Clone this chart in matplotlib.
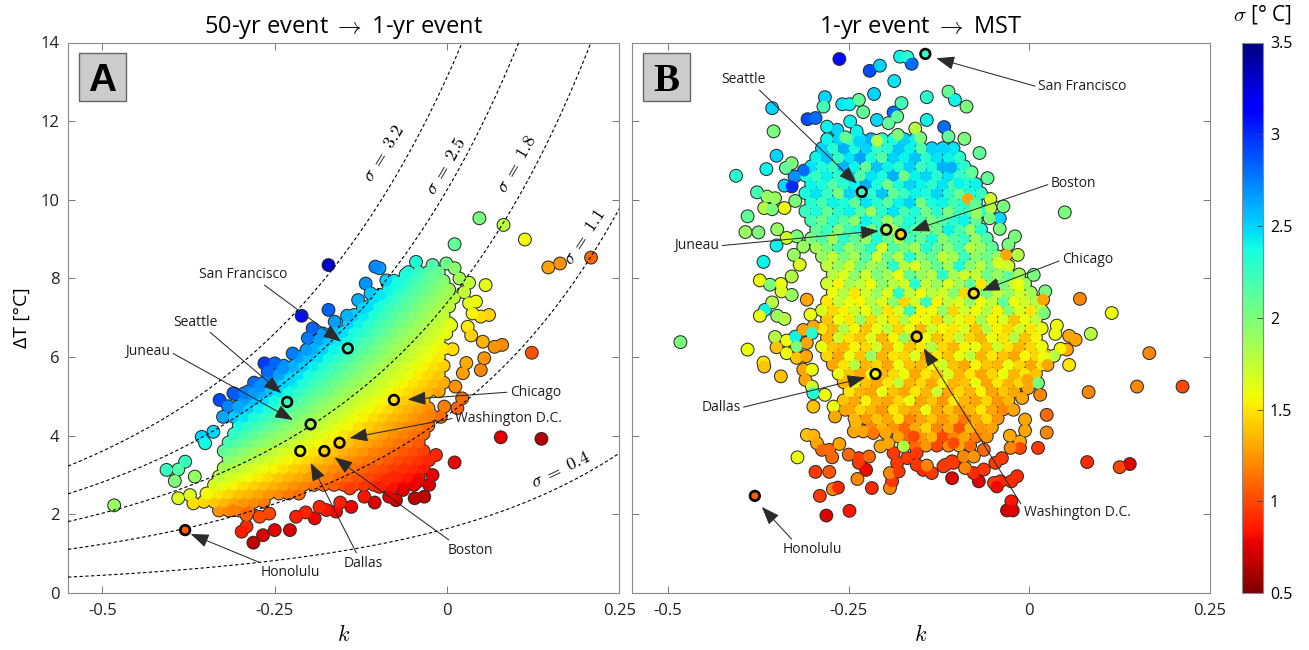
import numpy as np
import matplotlib
matplotlib.use("Agg")
import matplotlib.pyplot as plt
from matplotlib.colors import Normalize
from matplotlib.cm import ScalarMappable
from matplotlib.patches import Rectangle

plt.rcParams['font.family'] = ['Open Sans', 'DejaVu Sans']
plt.rcParams['mathtext.fontset'] = 'cm'

# ---------------------------------------------------------------- data
# iso-sigma curves of panel A:  dT = sigma * f(k)
curve_sigmas = [0.4, 1.1, 1.8, 2.5, 3.2]
curve_b = 0.87
curve_d = 4.1
curve_label_k = [0.165, 0.1995, 0.101, -0.002, -0.091]
curve_label_dT = [3.13, 9.06, 10.92, 10.87, 11.19]

city_names = ['San Francisco', 'Seattle', 'Juneau', 'Chicago', 'Washington D.C.', 'Dallas', 'Boston', 'Honolulu']
city_k = [-0.144, -0.232, -0.198, -0.077, -0.156, -0.213, -0.178, -0.380]
city_dT_A = [6.22, 4.86, 4.29, 4.91, 3.82, 3.61, 3.61, 1.60]
city_dT_B = [13.71, 10.20, 9.24, 7.62, 6.52, 5.57, 9.12, 2.47]

labA_k = [-0.296, -0.3645, -0.434, 0.128, 0.089, -0.121, 0.0345, -0.227]
labA_dT = [8.09, 6.89, 6.13, 5.11, 4.45, 0.76, 1.09, 0.51]
tipA_k = [-0.1535, -0.2403, -0.2235, -0.057, -0.1415, -0.198, -0.1632, -0.372]
tipA_dT = [6.39, 5.08, 4.40, 4.92, 3.94, 3.31, 3.45, 1.50]
relA = [(0.7, 0.0), (0.75, 0.0), (1.0, 0.5), (0.0, 0.5), (0.0, 0.5), (0.35, 1.0), (0.1, 1.0), (0.1, 1.0)]

labB_k = [0.0729, -0.396, -0.460, 0.0803, 0.0661, -0.4266, 0.0609, -0.3009]
labB_dT = [12.87, 13.05, 8.83, 8.47, 2.04, 4.71, 10.41, 1.11]
tipB_k = [-0.1288, -0.2389, -0.2087, -0.0656, -0.1464, -0.2271, -0.1631, -0.3703]
tipB_dT = [13.60, 10.41, 9.21, 7.69, 6.22, 5.48, 9.21, 2.19]
relB = [(0.0, 0.5), (0.8, 0.0), (1.0, 0.5), (0.0, 0.5), (0.0, 0.8), (1.0, 0.5), (0.0, 0.5), (0.2, 1.0)]

# panel A: dense core of stations, read row by row
A_rows_dT = [2.10, 2.32, 2.53, 2.75, 2.96, 3.18, 3.40, 3.61, 3.83, 4.05, 4.26, 4.48, 4.70, 4.91,
             5.13, 5.35, 5.56, 5.78, 6.00, 6.21, 6.43, 6.64, 6.86, 7.07, 7.29, 7.51, 7.72, 7.94, 8.16]
A_rows_k = [
    [-.331, -.317, -.302, -.288],
    [-.353, -.338, -.324, -.309, -.295, -.280, -.266],
    [-.346, -.331, -.317, -.302, -.288, -.273, -.259, -.244, -.230, -.215],
    [-.338, -.324, -.309, -.295, -.280, -.266, -.251, -.237, -.222, -.208, -.193, -.179, -.164, -.150, -.135, -.121, -.106, -.092, -.077, -.063, -.048],
    [-.331, -.317, -.302, -.288, -.273, -.259, -.244, -.230, -.215, -.201, -.186, -.172, -.157, -.143, -.128, -.114, -.099, -.085, -.070, -.056, -.041],
    [-.324, -.309, -.295, -.280, -.266, -.251, -.237, -.222, -.208, -.193, -.179, -.164, -.150, -.135, -.121, -.106, -.092, -.077, -.063, -.048, -.034],
    [-.317, -.302, -.288, -.273, -.259, -.244, -.230, -.215, -.201, -.186, -.172, -.157, -.143, -.128, -.114, -.099, -.085, -.070, -.056, -.041, -.027],
    [-.324, -.309, -.295, -.280, -.266, -.251, -.237, -.222, -.208, -.193, -.179, -.164, -.150, -.135, -.121, -.106, -.092, -.077, -.063, -.048, -.034],
    [-.317, -.302, -.288, -.273, -.259, -.244, -.230, -.215, -.201, -.186, -.172, -.157, -.143, -.128, -.114, -.099, -.085, -.070, -.056, -.041],
    [-.309, -.295, -.280, -.266, -.251, -.237, -.222, -.208, -.193, -.179, -.164, -.150, -.135, -.121, -.106, -.092, -.077, -.063, -.048, -.034],
    [-.302, -.288, -.273, -.259, -.244, -.230, -.215, -.201, -.186, -.172, -.157, -.143, -.128, -.114, -.099, -.085, -.070, -.056, -.041, -.027],
    [-.309, -.295, -.280, -.266, -.251, -.237, -.222, -.208, -.193, -.179, -.164, -.150, -.135, -.121, -.106, -.092, -.077, -.063, -.048, -.034],
    [-.302, -.288, -.273, -.259, -.244, -.230, -.215, -.201, -.186, -.172, -.157, -.143, -.128, -.114, -.099, -.085, -.070, -.056, -.041, -.027],
    [-.295, -.280, -.266, -.251, -.237, -.222, -.208, -.193, -.179, -.164, -.150, -.135, -.121, -.106, -.092, -.077, -.063, -.048, -.034],
    [-.288, -.273, -.259, -.244, -.230, -.215, -.201, -.186, -.172, -.157, -.143, -.128, -.114, -.099, -.085, -.070, -.056, -.041, -.027, -.012],
    [-.280, -.266, -.251, -.237, -.222, -.208, -.193, -.179, -.164, -.150, -.135, -.121, -.106, -.092, -.077, -.063, -.048, -.034, -.019, -.005],
    [-.259, -.244, -.230, -.215, -.201, -.186, -.172, -.157, -.143, -.128, -.114, -.099, -.085, -.070, -.056, -.041, -.027, -.012],
    [-.237, -.222, -.208, -.193, -.179, -.164, -.150, -.135, -.121, -.106, -.092, -.077, -.063, -.048, -.034, -.019, -.005],
    [-.215, -.201, -.186, -.172, -.157, -.143, -.128, -.114, -.099, -.085, -.070, -.056, -.041, -.027, -.012],
    [-.193, -.179, -.164, -.150, -.135, -.121, -.106, -.092, -.077, -.063, -.048, -.034, -.019, -.005],
    [-.186, -.172, -.157, -.143, -.128, -.114, -.099, -.085, -.070, -.056, -.041, -.027, -.012],
    [-.164, -.150, -.135, -.121, -.106, -.092, -.077, -.063, -.048, -.034, -.019, -.005],
    [-.143, -.128, -.114, -.099, -.085, -.070, -.056, -.041, -.027, -.012, .003],
    [-.135, -.121, -.106, -.092, -.077, -.063, -.048, -.034, -.019, -.005],
    [-.114, -.099, -.085, -.070, -.056, -.041, -.027, -.012, .003],
    [-.106, -.092, -.077, -.063, -.048, -.034, -.019, -.005, .010],
    [-.085, -.070, -.056, -.041, -.027, -.012, .003],
    [-.077, -.063, -.048, -.034, -.019, -.005],
    [-.056, -.041, -.027, -.012],
]
# panel A: scattered stations around the core
A_out_k = [-.483, -.407, -.390, -.395, -.390, -.373, -.368, -.380, -.356, -.351,
           -.339, -.325, -.330, -.308, -.289, -.272, -.366, -.349, -.310, -.291,
           -.298, -.281, -.267, -.250, -.228, -.272, -.219, -.192, -.175, -.185,
           -.161, -.139, -.291, -.141, -.258, -.205, -.155, -.120, -.105,
           .123, .080, .069, .052, .054, .049, .023, .022, .015, -.004,
           -.023, -.009, .078, .137, .011, -.016, -.026, -.021, -.026, -.043,
           -.033, -.047, -.064, -.076, -.081, -.074, .032, .061, .049, .030,
           .006, -.001, -.089, -.098, -.084, .012, .028, .008, .035,
           .047, .082, .113, .147, .164, .209, .011, -.045, -.021, -.001,
           .011, -.072, -.067, -.043, .018, .032, .056, -.098, .042, .037,
           .025, -.020,
           -.172, -.104, -.211, -.172, -.118, -.111, -.098, -.074, -.129, -.122,
           -.163, -.195, -.180, -.202, -.224, -.204, -.265, -.250, -.260, -.238,
           -.228, -.310, -.294, -.318, -.303, -.281, -.272, -.145, -.088, -.060]
A_out_dT = [2.23, 3.13, 3.14, 2.85, 2.41, 2.49, 2.28, 3.34, 3.97, 3.81,
            4.10, 4.48, 4.91, 5.06, 5.03, 5.08, 2.96, 2.53, 2.11, 1.69,
            1.56, 1.28, 1.47, 1.60, 1.60, 1.94, 1.94, 1.90, 2.11, 2.19,
            2.07, 2.19, 1.98, 2.66, 2.02, 2.05, 2.30, 2.45, 2.30,
            6.11, 6.31, 6.26, 6.39, 5.97, 5.67, 5.59, 4.95, 4.70, 4.74,
            4.53, 4.48, 3.96, 3.92, 3.32, 3.51, 3.38, 3.00, 2.75, 2.83,
            2.45, 2.41, 2.62, 2.96, 2.66, 2.36, 7.37, 7.07, 7.03, 6.77,
            6.81, 6.60, 2.87, 2.70, 2.45, 5.25, 5.85, 6.20, 6.55,
            9.53, 9.36, 8.99, 8.28, 8.38, 8.53, 8.87, 8.42, 8.34, 8.38,
            8.26, 7.83, 7.75, 7.70, 8.00, 7.89, 7.83, 8.26, 7.41, 7.11,
            7.65, 8.05,
            8.34, 8.30, 7.05, 7.20, 7.87, 7.62, 7.58, 7.87, 7.45, 7.24,
            6.90, 6.73, 6.60, 6.48, 6.09, 6.18, 5.84, 5.84, 5.63, 5.71,
            5.43, 5.08, 5.08, 4.75, 4.74, 5.08, 5.25, 7.05, 7.95, 8.10]

# panel B: dense core, row by row, with the sigma (colour) of each station
B_rows_dT = [3.75, 3.98, 4.21, 4.44, 4.67, 4.90, 5.13, 5.36, 5.58, 5.81, 6.04, 6.27, 6.50, 6.73,
             6.96, 7.19, 7.42, 7.64, 7.87, 8.10, 8.33, 8.56, 8.79, 9.02, 9.25, 9.48, 9.71, 9.94,
             10.17, 10.40, 10.62, 10.85, 11.08, 11.31, 11.54]
B_rows_k = [
    [-.158, -.143, -.128, -.112, -.097, -.082],
    [-.181, -.166, -.150, -.135, -.120, -.105, -.090, -.074, -.059],
    [-.219, -.204, -.188, -.173, -.158, -.143, -.128, -.112, -.097, -.082, -.067, -.052],
    [-.242, -.226, -.211, -.196, -.181, -.166, -.150, -.135, -.120, -.105, -.090, -.074, -.059, -.044],
    [-.249, -.234, -.219, -.204, -.188, -.173, -.158, -.143, -.128, -.112, -.097, -.082, -.067, -.052, -.036],
    [-.257, -.242, -.226, -.211, -.196, -.181, -.166, -.150, -.135, -.120, -.105, -.090, -.074, -.059, -.044, -.029],
    [-.249, -.234, -.219, -.204, -.188, -.173, -.158, -.143, -.128, -.112, -.097, -.082, -.067, -.052, -.036, -.021],
    [-.257, -.242, -.226, -.211, -.196, -.181, -.166, -.150, -.135, -.120, -.105, -.090, -.074, -.059, -.044, -.029, -.014, .002],
    [-.264, -.249, -.234, -.219, -.204, -.188, -.173, -.158, -.143, -.128, -.112, -.097, -.082, -.067, -.052, -.036, -.021, -.006, .009],
    [-.272, -.257, -.242, -.226, -.211, -.196, -.181, -.166, -.150, -.135, -.120, -.105, -.090, -.074, -.059, -.044, -.029, -.014, .002, .017],
    [-.280, -.264, -.249, -.234, -.219, -.204, -.188, -.173, -.158, -.143, -.128, -.112, -.097, -.082, -.067, -.052, -.036, -.021, -.006, .009, .024],
    [-.287, -.272, -.257, -.242, -.226, -.211, -.196, -.181, -.166, -.150, -.135, -.120, -.105, -.090, -.074, -.059, -.044, -.029, -.014, .002, .017],
    [-.280, -.264, -.249, -.234, -.219, -.204, -.188, -.173, -.158, -.143, -.128, -.112, -.097, -.082, -.067, -.052, -.036, -.021, -.006, .009],
    [-.287, -.272, -.257, -.242, -.226, -.211, -.196, -.181, -.166, -.150, -.135, -.120, -.105, -.090, -.074, -.059, -.044, -.029, -.014, .002, .017],
    [-.280, -.264, -.249, -.234, -.219, -.204, -.188, -.173, -.158, -.143, -.128, -.112, -.097, -.082, -.067, -.052, -.036, -.021, -.006, .009],
    [-.287, -.272, -.257, -.242, -.226, -.211, -.196, -.181, -.166, -.150, -.135, -.120, -.105, -.090, -.074, -.059, -.044, -.029, -.014, .002, .017],
    [-.280, -.264, -.249, -.234, -.219, -.204, -.188, -.173, -.158, -.143, -.128, -.112, -.097, -.082, -.067, -.052, -.036, -.021, -.006, .009],
    [-.272, -.257, -.242, -.226, -.211, -.196, -.181, -.166, -.150, -.135, -.120, -.105, -.090, -.074, -.059, -.044, -.029, -.014, .002],
    [-.280, -.264, -.249, -.234, -.219, -.204, -.188, -.173, -.158, -.143, -.128, -.112, -.097, -.082, -.067, -.052, -.036, -.021, -.006],
    [-.272, -.257, -.242, -.226, -.211, -.196, -.181, -.166, -.150, -.135, -.120, -.105, -.090, -.074, -.059, -.044, -.029, -.014],
    [-.280, -.264, -.249, -.234, -.219, -.204, -.188, -.173, -.158, -.143, -.128, -.112, -.097, -.082, -.067, -.052, -.036],
    [-.287, -.272, -.257, -.242, -.226, -.211, -.196, -.181, -.166, -.150, -.135, -.120, -.105, -.090, -.074, -.059, -.044],
    [-.295, -.280, -.264, -.249, -.234, -.219, -.204, -.188, -.173, -.158, -.143, -.128, -.112, -.097, -.082, -.067, -.052],
    [-.302, -.287, -.272, -.257, -.242, -.226, -.211, -.196, -.181, -.166, -.150, -.135, -.120, -.105, -.090, -.074, -.059],
    [-.295, -.280, -.264, -.249, -.234, -.219, -.204, -.188, -.173, -.158, -.143, -.128, -.112, -.097, -.082, -.067],
    [-.302, -.287, -.272, -.257, -.242, -.226, -.211, -.196, -.181, -.166, -.150, -.135, -.120, -.105, -.090, -.074],
    [-.310, -.295, -.280, -.264, -.249, -.234, -.219, -.204, -.188, -.173, -.158, -.143, -.128, -.112, -.097, -.082, -.067],
    [-.302, -.287, -.272, -.257, -.242, -.226, -.211, -.196, -.181, -.166, -.150, -.135, -.120, -.105, -.090, -.074],
    [-.310, -.295, -.280, -.264, -.249, -.234, -.219, -.204, -.188, -.173, -.158, -.143, -.128, -.112, -.097, -.082, -.067],
    [-.302, -.287, -.272, -.257, -.242, -.226, -.211, -.196, -.181, -.166, -.150, -.135, -.120, -.105, -.090, -.074],
    [-.310, -.295, -.280, -.264, -.249, -.234, -.219, -.204, -.188, -.173, -.158, -.143, -.128, -.112, -.097, -.082],
    [-.302, -.287, -.272, -.257, -.242, -.226, -.211, -.196, -.181, -.166, -.150, -.135, -.120, -.105, -.090],
    [-.295, -.280, -.264, -.249, -.234, -.219, -.204, -.188, -.173, -.158, -.143, -.128, -.112, -.097],
    [-.287, -.272, -.257, -.242, -.226, -.211, -.196, -.181, -.166, -.150, -.135, -.120, -.105],
    [-.280, -.264, -.249, -.234, -.219, -.204, -.188, -.173, -.158],
]
B_rows_sig = [
    [1.1, 1.25, 1.0, 1.2, 1.3, 1.1],
    [1.3, 1.1, 1.25, 1.35, 1.0, 1.2, 1.3, 1.15, 1.25],
    [1.2, 1.35, 1.25, 1.1, 1.3, 1.45, 1.2, 1.3, 1.05, 1.35, 1.25, 1.3],
    [1.35, 1.25, 1.4, 1.3, 1.5, 1.2, 1.3, 1.4, 1.25, 1.35, 1.15, 1.3, 1.45, 1.25],
    [1.3, 1.45, 1.35, 1.25, 1.5, 1.35, 1.3, 1.6, 1.3, 1.4, 1.25, 1.35, 1.5, 1.3, 1.2],
    [1.4, 1.3, 1.55, 1.35, 1.3, 1.45, 1.6, 1.3, 1.4, 1.25, 1.5, 1.35, 1.3, 1.45, 1.25, 1.35],
    [1.5, 1.35, 1.3, 1.6, 1.4, 1.3, 1.5, 1.35, 1.7, 1.3, 1.45, 1.35, 1.55, 1.3, 1.4, 1.3],
    [1.35, 1.6, 1.4, 1.3, 1.5, 1.75, 1.35, 1.45, 1.3, 1.55, 1.35, 1.4, 1.6, 1.3, 1.5, 1.35, 1.45, 1.3],
    [1.6, 1.4, 1.3, 1.55, 1.35, 1.45, 1.6, 1.3, 1.5, 1.4, 1.65, 1.35, 1.5, 1.3, 1.45, 1.6, 1.35, 1.5, 1.4],
    [1.3, 1.5, 1.8, 1.35, 1.45, 1.3, 1.6, 1.4, 1.35, 1.55, 1.7, 1.4, 1.3, 1.55, 1.4, 1.35, 1.6, 1.45, 1.3, 1.5],
    [1.45, 1.3, 1.6, 1.4, 1.9, 1.35, 1.5, 1.45, 1.65, 1.3, 1.5, 1.4, 1.6, 1.75, 1.35, 1.5, 1.4, 1.3, 1.55, 1.45, 1.3],
    [1.6, 1.4, 1.35, 1.55, 1.45, 1.7, 1.35, 1.6, 1.4, 1.5, 1.8, 1.45, 1.35, 1.55, 1.6, 1.4, 1.7, 1.5, 1.35, 1.45, 1.6],
    [1.35, 1.7, 1.5, 1.4, 1.65, 1.35, 1.55, 1.9, 1.45, 1.6, 1.4, 1.5, 1.75, 1.45, 1.35, 1.6, 1.5, 1.8, 1.4, 1.55],
    [1.5, 1.35, 1.8, 1.55, 1.4, 1.6, 1.75, 1.45, 1.6, 1.35, 1.7, 1.55, 1.5, 1.65, 1.4, 1.8, 1.55, 1.45, 1.7, 1.5, 1.6],
    [1.4, 1.6, 1.5, 1.9, 1.45, 1.65, 1.5, 1.8, 1.55, 1.6, 1.45, 1.75, 1.6, 1.5, 1.85, 1.55, 1.65, 1.4, 1.6, 1.75],
    [1.65, 1.45, 1.55, 1.7, 1.6, 1.85, 1.5, 1.65, 2.2, 1.55, 1.6, 1.9, 1.45, 1.7, 1.6, 1.8, 1.55, 1.95, 1.65, 1.5, 1.7],
    [1.5, 1.75, 1.6, 1.55, 1.8, 1.65, 1.95, 1.45, 1.7, 2.25, 1.55, 1.75, 1.65, 1.9, 1.6, 1.75, 2.1, 1.6, 1.7, 1.8],
    [1.6, 1.8, 1.5, 1.7, 1.9, 1.65, 2.3, 1.75, 1.6, 1.8, 1.7, 1.95, 1.45, 1.85, 2.0, 1.75, 1.9, 1.7, 1.85],
    [1.7, 1.55, 1.85, 1.75, 1.6, 1.95, 1.8, 1.7, 2.3, 1.75, 1.9, 1.65, 1.85, 2.1, 1.5, 1.95, 2.0, 1.75, 1.9],
    [1.8, 1.65, 1.95, 1.7, 2.0, 1.85, 1.6, 2.1, 1.9, 1.8, 2.3, 1.85, 1.7, 1.75, 2.05, 1.9, 2.1, 1.85],
    [1.75, 1.9, 1.7, 2.05, 1.85, 1.95, 2.3, 1.8, 1.65, 1.9, 2.1, 1.85, 2.35, 1.95, 1.8, 2.05, 1.9],
    [1.9, 1.75, 2.0, 1.85, 2.15, 1.7, 2.05, 1.8, 2.3, 1.95, 2.1, 1.75, 1.85, 2.25, 1.95, 2.05, 1.9],
    [1.85, 2.0, 2.2, 1.9, 2.05, 2.3, 1.7, 2.15, 2.0, 1.85, 2.3, 2.1, 1.95, 2.2, 1.8, 1.9, 2.1],
    [2.0, 2.15, 1.85, 2.3, 2.1, 1.9, 2.35, 2.05, 1.8, 2.2, 2.1, 2.35, 1.95, 2.15, 2.25, 1.9, 2.15],
    [2.1, 2.25, 1.95, 2.2, 2.35, 2.0, 2.25, 1.85, 2.3, 2.15, 2.0, 2.05, 2.4, 2.2, 1.9, 2.3],
    [2.2, 2.05, 2.3, 2.15, 1.95, 2.4, 2.25, 1.9, 2.1, 2.35, 2.2, 2.0, 2.15, 2.3, 2.4, 2.1],
    [2.25, 2.35, 2.1, 2.3, 2.4, 2.15, 1.9, 2.3, 2.45, 2.2, 2.35, 2.05, 2.3, 2.0, 2.25, 2.2, 2.35],
    [2.3, 2.2, 2.4, 2.35, 2.1, 2.45, 2.3, 2.15, 2.4, 2.5, 2.0, 2.35, 2.4, 2.2, 2.35, 2.3],
    [2.35, 2.45, 2.25, 2.0, 2.5, 2.35, 2.3, 2.55, 2.1, 2.25, 2.4, 2.35, 2.5, 2.3, 2.05, 2.35, 2.25],
    [2.4, 2.35, 2.15, 2.3, 2.4, 2.6, 2.35, 2.05, 2.35, 2.5, 2.4, 2.3, 2.45, 2.15, 2.35, 2.4],
    [2.35, 2.25, 2.4, 2.3, 2.55, 2.15, 2.45, 2.35, 2.6, 2.05, 2.4, 2.5, 2.3, 2.45, 2.25, 2.3],
    [2.45, 2.35, 2.25, 2.6, 2.4, 2.1, 2.55, 2.4, 2.3, 2.5, 2.25, 2.35, 2.6, 2.4, 2.3],
    [2.4, 2.55, 2.25, 2.45, 2.65, 2.35, 2.15, 2.5, 2.4, 2.55, 2.3, 2.45, 2.4, 2.3],
    [2.5, 2.3, 2.6, 2.35, 2.5, 2.25, 2.3, 2.55, 2.4, 2.15, 2.5, 2.4, 2.45],
    [2.4, 2.5, 2.25, 2.45, 2.6, 2.3, 2.35, 2.5, 2.4],
]
# panel B: scattered stations around the core
B_out_k = [-.263, -.179, -.169, -.163, -.207, -.221, -.187, -.215, -.142, -.112,
           -.103, -.283, -.285, -.259, -.249, -.236, -.177, -.230, -.188, -.183,
           -.356, -.307, -.296, -.248, -.211, -.195, -.142, -.118, -.158, -.280,
           -.266, -.239, -.255, -.354, -.236, -.211, -.182, -.151, -.112, -.350,
           -.364, -.329, -.337, -.312, -.325, -.339, -.329, -.406, -.377, -.363,
           -.352, -.367, -.356, -.339, -.324, -.390, -.393, -.375, -.349,
           -.087, -.090, -.069, -.119, -.080, -.058, -.108, -.098, -.085, -.054,
           -.054, -.036, -.075, -.041, -.055, -.041, -.020, .049, -.073,
           -.029, -.016, -.032, -.029, -.043, .006, .022, -.015, .070, .114,
           .019, .020, .085, .038, .036, .055, .064, .052, .043, .034,
           .020, .025, .055, .166, .012, -.003, .015, -.002, .082, .149,
           .212, -.010, -.022, -.006, .024,
           .024, .012, -.006, -.013, -.013, -.027, -.026, .080, .125, .139,
           -.017, -.025, -.025, -.031, -.023, -.040, -.049, -.045, -.063, -.070,
           -.077, -.107, -.107, -.119, -.089, -.091, -.077, -.038, -.047, -.063,
           -.105,
           -.321, -.308, -.299, -.294, -.287, -.277, -.273, -.263, -.296, -.277,
           -.290, -.272, -.265, -.281, -.249, -.250, -.236, -.222, -.236, -.226,
           -.238, -.218, -.193, -.190, -.193, -.181, -.183, -.169, -.174, -.195,
           -.206, -.243, -.240, -.230, -.216, -.199, -.156, -.156, -.147, -.135,
           -.142, -.105, -.116, -.160, -.188,
           -.483, -.390, -.368, -.350, -.373, -.359, -.344, -.343, -.356, -.366,
           -.373, -.349, -.339, -.352, -.336, -.324, -.322, -.350, -.336, -.322,
           -.368, -.367, -.344, -.329, -.329, -.318, -.326, -.313, -.322, -.336,
           -.308, -.303, -.299, -.313, -.301, -.308, -.309, -.313, -.301, -.310,
           -.301, -.299, -.283, -.299, -.271, -.269, -.255]
B_out_dT = [13.58, 13.64, 13.63, 13.46, 13.41, 13.28, 13.02, 12.69, 12.61, 12.75,
            12.54, 12.61, 12.37, 12.43, 12.43, 12.54, 12.46, 12.23, 12.22, 12.12,
            12.33, 12.05, 12.08, 11.99, 12.03, 11.95, 12.03, 11.85, 11.81, 11.86,
            11.78, 11.74, 11.59, 11.74, 11.48, 11.50, 11.65, 11.57, 11.61, 11.12,
            10.78, 10.93, 10.81, 10.74, 10.59, 10.36, 10.34, 10.61, 10.19, 10.08,
            10.04, 9.79, 9.76, 9.79, 9.97, 9.58, 9.18, 9.17, 9.25,
            12.37, 11.55, 11.19, 11.31, 10.70, 10.55, 10.82, 10.42, 10.02, 10.02,
            9.79, 9.83, 9.87, 9.53, 9.53, 9.26, 9.07, 9.68, 9.66,
            8.86, 8.60, 8.60, 8.32, 8.39, 8.09, 7.67, 7.84, 7.48, 7.12,
            7.46, 7.12, 6.59, 6.80, 6.59, 6.54, 6.44, 6.19, 6.21, 6.03,
            6.00, 5.80, 5.80, 6.10, 5.34, 5.42, 5.04, 5.21, 5.11, 5.25,
            5.25, 4.96, 4.66, 4.41, 4.53,
            4.08, 3.69, 4.13, 3.85, 3.69, 4.00, 3.69, 3.33, 3.20, 3.28,
            2.97, 2.84, 2.33, 2.10, 2.10, 2.84, 2.80, 2.71, 3.14, 2.84,
            3.05, 2.92, 3.35, 3.22, 3.18, 3.47, 3.47, 3.43, 3.31, 3.64,
            3.81,
            3.45, 4.02, 4.00, 3.81, 3.64, 3.64, 3.45, 3.79, 3.08, 3.08,
            2.47, 2.64, 2.68, 1.97, 2.09, 3.52, 3.43, 3.47, 3.31, 3.13,
            2.90, 2.67, 2.67, 2.84, 3.05, 3.09, 3.31, 3.43, 3.73, 3.81,
            3.73, 4.11, 4.32, 4.11, 4.07, 4.07, 3.56, 3.26, 3.13, 3.05,
            3.24, 3.31, 3.26, 3.98, 3.56,
            6.38, 6.19, 8.42, 8.84, 7.95, 7.84, 7.86, 7.67, 7.39, 7.20,
            7.05, 7.05, 6.97, 6.51, 6.42, 6.52, 6.27, 6.25, 6.10, 5.98,
            5.86, 5.76, 5.51, 7.58, 8.05, 8.35, 8.60, 8.81, 9.07, 9.03,
            7.46, 7.08, 6.78, 6.69, 6.61, 6.36, 6.02, 5.68, 5.68, 5.42,
            5.25, 5.08, 5.04, 4.74, 4.74, 4.49, 4.66]
B_out_sig = [3.1, 2.4, 2.3, 2.8, 2.5, 2.9, 2.45, 2.5, 2.3, 2.1,
             2.4, 2.5, 2.2, 2.45, 2.4, 2.1, 2.2, 2.1, 2.8, 2.1,
             2.5, 2.9, 2.8, 2.4, 2.5, 2.1, 2.4, 2.8, 1.8, 2.4,
             2.5, 2.4, 2.1, 2.0, 2.5, 1.8, 2.0, 2.0, 2.1, 2.5,
             2.4, 2.0, 2.1, 2.8, 2.7, 2.5, 3.0, 2.3, 2.2, 1.9,
             1.9, 1.8, 2.0, 1.6, 2.0, 2.1, 1.9, 2.0, 1.9,
             2.0, 2.0, 2.1, 2.5, 2.1, 2.1, 2.6, 2.4, 1.3, 1.7,
             1.8, 2.0, 2.1, 2.5, 2.0, 2.0, 2.0, 2.0, 1.9,
             2.0, 1.8, 1.3, 1.7, 1.65, 2.0, 2.0, 1.6, 1.2, 1.6,
             1.3, 2.0, 1.8, 1.6, 1.6, 1.3, 1.3, 1.3, 1.55, 1.8,
             1.6, 1.3, 1.5, 1.2, 2.0, 1.3, 1.2, 1.3, 1.2, 1.2,
             1.0, 1.3, 1.3, 1.3, 1.1,
             1.2, 0.95, 1.3, 1.3, 1.0, 1.3, 1.2, 0.9, 1.0, 0.75,
             0.9, 0.9, 0.85, 0.7, 0.75, 0.9, 0.95, 0.8, 0.95, 0.75,
             0.9, 0.75, 0.95, 0.95, 1.2, 1.2, 1.25, 0.95, 0.95, 1.1,
             1.0,
             1.6, 1.4, 1.35, 1.3, 1.1, 1.1, 1.1, 1.3, 0.95, 1.05,
             0.95, 1.2, 0.9, 0.75, 0.85, 1.1, 0.95, 1.1, 0.95, 0.8,
             1.2, 0.9, 1.2, 0.95, 1.2, 0.95, 0.95, 0.95, 1.8, 1.3,
             1.3, 1.3, 1.35, 1.3, 1.15, 1.3, 0.95, 0.95, 0.9, 0.95,
             1.2, 0.95, 0.95, 1.0, 0.95,
             2.0, 1.6, 2.4, 2.4, 1.6, 2.0, 1.6, 1.65, 1.8, 2.4,
             1.6, 1.9, 1.8, 1.8, 1.6, 2.4, 2.0, 1.4, 1.6, 1.4,
             1.5, 1.4, 1.4, 1.9, 1.8, 1.65, 1.9, 1.9, 2.0, 1.7,
             1.3, 1.6, 1.3, 1.3, 2.3, 1.3, 1.3, 1.3, 1.6, 1.3,
             1.7, 2.3, 1.6, 1.4, 1.6, 1.3, 1.3]

xtick_vals = [-0.5, -0.25, 0, 0.25]
xtick_labels = ['-0.5', '-0.25', '0', '0.25']
cbar_ticks = [0.5, 1, 1.5, 2, 2.5, 3, 3.5]
cbar_labels = ['0.5', '1', '1.5', '2', '2.5', '3', '3.5']

# ---------------------------------------------------------------- checks
assert len(A_rows_dT) == len(A_rows_k)
assert len(B_rows_dT) == len(B_rows_k) == len(B_rows_sig)
for i, (a, b) in enumerate(zip(B_rows_k, B_rows_sig)):
    assert len(a) == len(b), ('B row', i, len(a), len(b))
assert len(A_out_k) == len(A_out_dT), (len(A_out_k), len(A_out_dT))
assert len(B_out_k) == len(B_out_dT) == len(B_out_sig), (len(B_out_k), len(B_out_dT), len(B_out_sig))


def f_curve(k):
    k = np.asarray(k, dtype=float)
    ks = np.where(np.abs(k) < 1e-9, 1e-9, k)
    return np.exp(curve_b * ks) * np.expm1(curve_d * ks) / ks


# ---------------------------------------------------------------- figure
W, H = 1309, 650
fig = plt.figure(figsize=(W / 100, H / 100), dpi=100)
bot = 1 - 593 / H
hgt = 550.5 / H
axA = fig.add_axes([68 / W, bot, 551.3 / W, hgt])
axB = fig.add_axes([632 / W, bot, 578 / W, hgt])
cax = fig.add_axes([1242 / W, bot, 21 / W, hgt])

cmap = plt.get_cmap('jet_r')
norm = Normalize(0.5, 3.5)

for ax in (axA, axB):
    ax.set_xlim(-0.55, 0.25)
    ax.set_ylim(0, 14)
    ax.set_xticks(xtick_vals)
    ax.set_xticklabels(xtick_labels)
    ax.set_yticks(range(0, 15, 2))
    ax.tick_params(direction='in', length=5, width=0.7, color='#777777', top=True, right=True,
                   labelsize=12, labelcolor='#222222')
    ax.tick_params(axis='x', pad=7)
    ax.tick_params(axis='y', pad=6)
    for sp in ax.spines.values():
        sp.set_color('#8a8a8a')
        sp.set_linewidth(0.8)
    ax.set_xlabel(r'$k$', fontsize=16)
    ax.xaxis.set_label_coords(0.5, -0.058)
axB.set_yticklabels([])
axA.set_ylabel('ΔT [°C]', fontsize=14)
axA.yaxis.set_label_coords(-0.068, 0.5)
axA.set_title(r'50-yr event $\rightarrow$ 1-yr event', fontsize=17, pad=7)
axB.set_title(r'1-yr event $\rightarrow$ MST', fontsize=17, pad=7)

S = 72


def draw_points(ax, k, dT, sig):
    cols = cmap(norm(np.asarray(sig)))
    ax.scatter(k, dT, s=S, c=cols, edgecolors='#2e2e2e', linewidths=1.5, zorder=2)
    ax.scatter(k, dT, s=S, c=cols, edgecolors='none', linewidths=0, zorder=2.5)


# panel A points (colour = sigma implied by position on the iso-sigma family)
kA, dA = [], []
for d, row in zip(A_rows_dT, A_rows_k):
    kA += list(row)
    dA += [d] * len(row)
kA += A_out_k
dA += A_out_dT
kA = np.array(kA)
dA = np.array(dA)
draw_points(axA, kA, dA, dA / f_curve(kA))

# panel B points
kB, dB, sB = [], [], []
for d, row, sg in zip(B_rows_dT, B_rows_k, B_rows_sig):
    kB += list(row)
    dB += [d] * len(row)
    sB += list(sg)
kB += B_out_k
dB += B_out_dT
sB += B_out_sig
draw_points(axB, kB, dB, sB)

# iso-sigma curves
kk = np.linspace(-0.55, 0.25, 600)
for s in curve_sigmas:
    axA.plot(kk, s * f_curve(kk), color='k', lw=0.8, ls=(0, (3, 2.2)), zorder=4)
for s, lk, ld in zip(curve_sigmas, curve_label_k, curve_label_dT):
    p1 = axA.transData.transform((lk - 0.004, s * f_curve(lk - 0.004)))
    p2 = axA.transData.transform((lk + 0.004, s * f_curve(lk + 0.004)))
    ang = np.degrees(np.arctan2(p2[1] - p1[1], p2[0] - p1[0]))
    axA.text(lk, ld, r'$\sigma\;=\;%s$' % s, rotation=ang, rotation_mode='anchor',
             ha='center', va='center', fontsize=13, zorder=5)

# cities
city_sig = np.array(city_dT_A) / f_curve(np.array(city_k))
for ax, cd in ((axA, city_dT_A), (axB, city_dT_B)):
    ax.scatter(city_k, cd, s=48, c=cmap(norm(city_sig)), edgecolors='k', linewidths=1.9, zorder=6)

arrow_style = '-|>,head_length=0.8,head_width=0.3'
for ax, lk, ld, tk, td, rel in ((axA, labA_k, labA_dT, tipA_k, tipA_dT, relA),
                                (axB, labB_k, labB_dT, tipB_k, tipB_dT, relB)):
    for name, a, b, c, d, rp in zip(city_names, lk, ld, tk, td, rel):
        ax.annotate(name, xy=(c, d), xytext=(a, b), ha='center', va='center', fontsize=10,
                    color='#1e1e1e', zorder=7,
                    arrowprops=dict(arrowstyle=arrow_style, color='#2b2b2b', lw=0.75,
                                    shrinkA=0, shrinkB=0, mutation_scale=14, relpos=rp))

# colorbar
cb = fig.colorbar(ScalarMappable(norm=norm, cmap=cmap), cax=cax, ticks=cbar_ticks)
cb.ax.set_yticklabels(cbar_labels)
cax.tick_params(direction='in', length=4, width=0.6, color='#444444', labelsize=11.5, pad=5)
cb.outline.set_edgecolor('#8a8a8a')
cb.outline.set_linewidth(0.8)
fig.text(1262 / W, 1 - 15 / H, r'$\sigma$ [° C]', ha='center', va='center', fontsize=15)

# panel letters
for x0, letter, fam in ((79, 'A', 'Liberation Sans'), (643, 'B', 'Liberation Serif')):
    fig.add_artist(Rectangle((x0 / W, 1 - 101 / H), 47 / W, 48 / H, transform=fig.transFigure,
                             facecolor='#cccccc', edgecolor='#666666', lw=1.0, zorder=10))
    fig.text((x0 + 23.5) / W, 1 - 77 / H, letter, fontsize=28, fontweight='bold', family=fam,
             ha='center', va='center_baseline', zorder=11)

fig.savefig('out.png', dpi=100, facecolor='white')
